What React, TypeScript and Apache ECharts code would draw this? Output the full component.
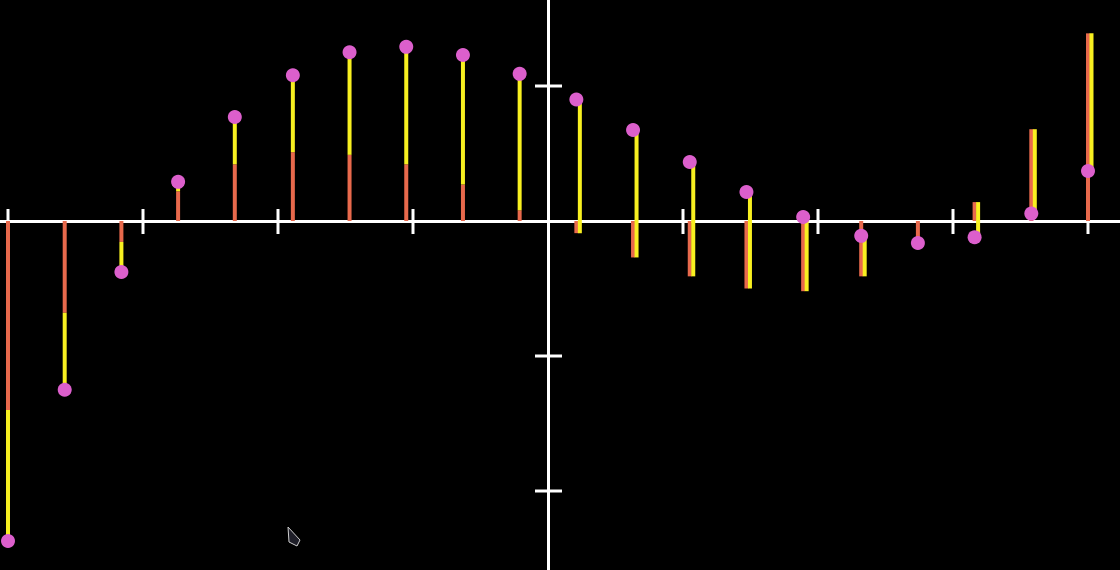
import { useEffect, useRef } from "react";
import * as echarts from "echarts";

// sample positions (20 samples from -4 to 4)
const sampleX = [
  -4, -3.58, -3.16, -2.74, -2.32, -1.89, -1.47, -1.05, -0.63, -0.21,
  0.21, 0.63, 1.05, 1.47, 1.89, 2.32, 2.74, 3.16, 3.58, 4,
];
// first component (orange stem, from 0)
const firstPart = [
  -1.4, -0.68, -0.155, 0.22, 0.42, 0.51, 0.49, 0.42, 0.27, 0.08,
  -0.09, -0.27, -0.41, -0.5, -0.52, -0.41, -0.15, 0.14, 0.68, 1.39,
];
// sum (pink dot; yellow stem goes from firstPart to here)
const totalValue = [
  -2.37, -1.25, -0.378, 0.29, 0.77, 1.08, 1.25, 1.29, 1.23, 1.09,
  0.9, 0.674, 0.437, 0.215, 0.03, -0.11, -0.163, -0.12, 0.055, 0.37,
];
const xTicks = [-4, -3, -2, -1, 1, 2, 3, 4];
const yTicks = [1, -1, -2];

const ORANGE = "#e8694c";
const YELLOW = "#f8f020";
const PINK = "#dc5fcc";
const WHITE = "#ffffff";

export default function App() {
  const ref = useRef<HTMLDivElement>(null);

  useEffect(() => {
    document.body.style.margin = "0";
    document.body.style.background = "#000";
    if (!ref.current) return;
    const chart = echarts.init(ref.current, undefined, { renderer: "svg" });

    const stems = sampleX.map((x, i) => [x, firstPart[i], totalValue[i]]);

    chart.setOption({
      animation: false,
      backgroundColor: "#000",
      grid: { left: 0, right: 0, top: 0, bottom: 0 },
      xAxis: {
        type: "value",
        min: -548 / 135,
        max: 572 / 135,
        axisLine: { show: true, onZero: true, lineStyle: { color: WHITE, width: 3 } },
        axisTick: { show: false },
        axisLabel: { show: false },
        splitLine: { show: false },
      },
      yAxis: {
        type: "value",
        min: -349 / 135,
        max: 221 / 135,
        axisLine: { show: true, onZero: true, lineStyle: { color: WHITE, width: 3 } },
        axisTick: { show: false },
        axisLabel: { show: false },
        splitLine: { show: false },
      },
      series: [
        {
          type: "custom",
          z: 2,
          data: xTicks.map((v) => [v, 0]),
          renderItem: (_p: any, api: any) => {
            const c = api.coord([api.value(0), 0]);
            return {
              type: "line",
              shape: { x1: c[0], y1: c[1] - 12, x2: c[0], y2: c[1] + 13 },
              style: { stroke: WHITE, lineWidth: 3 },
            };
          },
        },
        {
          type: "custom",
          z: 2,
          data: yTicks.map((v) => [0, v]),
          renderItem: (_p: any, api: any) => {
            const c = api.coord([0, api.value(1)]);
            return {
              type: "line",
              shape: { x1: c[0] - 13, y1: c[1], x2: c[0] + 14, y2: c[1] },
              style: { stroke: WHITE, lineWidth: 3 },
            };
          },
        },
        {
          type: "custom",
          z: 3,
          data: stems,
          renderItem: (_p: any, api: any) => {
            const x = api.value(0);
            const a = api.value(1);
            const t = api.value(2);
            const p0 = api.coord([x, 0]);
            const pa = api.coord([x, a]);
            const pt = api.coord([x, t]);
            const back = Math.sign(t - a) !== Math.sign(a);
            const dx = back ? 3.5 : 0;
            return {
              type: "group",
              children: [
                {
                  type: "line",
                  shape: { x1: p0[0], y1: p0[1], x2: pa[0], y2: pa[1] },
                  style: { stroke: ORANGE, lineWidth: 4 },
                },
                {
                  type: "line",
                  shape: { x1: pa[0] + dx, y1: pa[1], x2: pt[0] + dx, y2: pt[1] },
                  style: { stroke: YELLOW, lineWidth: 4 },
                },
              ],
            };
          },
        },
        {
          type: "scatter",
          z: 4,
          symbolSize: 14,
          itemStyle: { color: PINK, opacity: 1 },
          emphasis: { disabled: true },
          data: sampleX.map((x, i) => [x, totalValue[i]]),
        },
      ],
      graphic: [
        {
          type: "polygon",
          shape: { points: [[288, 527], [289, 542], [297, 546], [300, 540]] },
          style: { fill: "#1e1e28", stroke: "#cfcfcf", lineWidth: 1 },
          z: 10,
        },
      ],
    });

    return () => chart.dispose();
  }, []);

  return <div ref={ref} style={{ width: 1120, height: 570, background: "#000" }} />;
}
